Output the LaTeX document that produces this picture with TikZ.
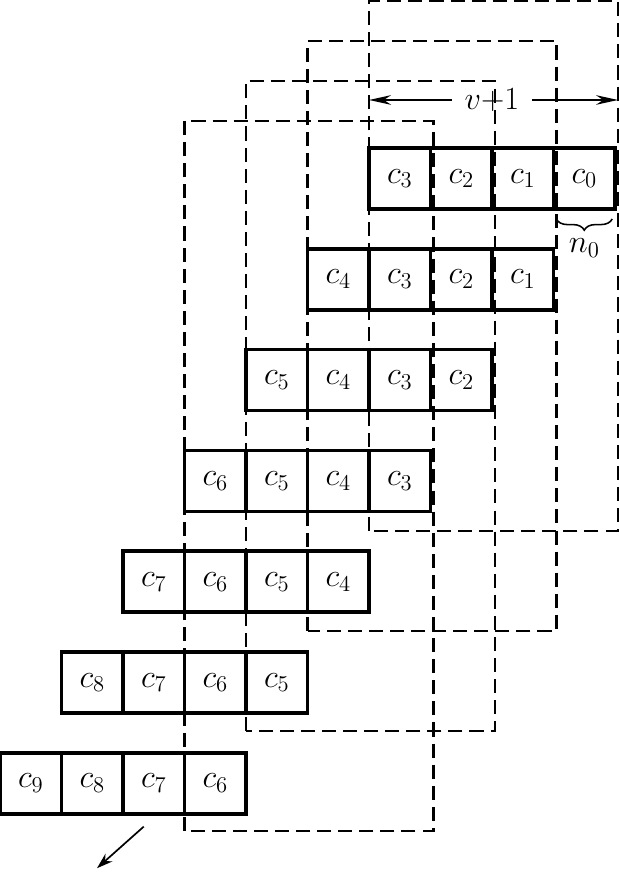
\documentclass[tikz,border=0pt]{standalone}
\usepackage{fix-cm}
\usepackage{amsmath}
\usepackage{tikz}
\usetikzlibrary{arrows.meta,calc,positioning,decorations.pathreplacing}

\begin{document}
\begin{tikzpicture}[
    cell/.style={draw,line width=2.5pt,minimum width=1.5375cm,minimum height=1.525cm,inner sep=0pt,outer sep=0pt,font=\fontsize{23}{27}\selectfont},
    dsh/.style={line width=1.5pt,dash pattern=on 10pt off 5pt},
    ar/.style={-{Stealth[length=5.5mm,width=2.4mm]},line width=1.4pt},
    ard/.style={-{Stealth[length=4mm,width=2.6mm]},line width=1.2pt},
    brc/.style={decorate,decoration={brace,mirror,amplitude=2.8mm},line width=1.1pt},
    lab/.style={font=\fontsize{23}{27}\selectfont}
  ]
    \useasboundingbox (0,0) rectangle (15.475,21.825);
    % dashed windows
    \foreach \r in {0,...,3} {\draw[dsh] ({9.225-1.5375*\r},{8.55-2.5*\r}) rectangle ({15.45-1.5375*\r},{21.8-\r});}
    % rows of cells
    \foreach \k in {0,...,6} {
      \foreach \j in {0,...,3} {
        \pgfmathtruncatemacro\idx{\k+3-\j}
        \node[cell] (r\k-\j) at ({9.225-1.5375*\k+(\j+.5)*1.5375},{17.3625-2.52*\k}) {$c_{\idx}$};
      }
    }
    % width v+1
    \node[lab,inner sep=9pt] (vl) at (12.3,19.325) {$v{+}1$};
    \coordinate (wl) at (9.225,19.325); \coordinate (wr) at (15.45,19.325);
    \draw[ar] (vl) -- (wl); \draw[ar] (vl) -- (wr);
    % brace under c0
    \draw[brc] ([xshift=.07cm,yshift=-.25cm]r0-3.south west) -- ([xshift=-.07cm,yshift=-.25cm]r0-3.south east) node[midway,below=3.5mm,lab] (n0) {$n_0$};
    % direction
    \coordinate (dn) at (2.425,.12);
    \draw[ard] ([xshift=-.25cm,yshift=-.32cm]r6-2.south) -- (dn);
  \end{tikzpicture}
\end{document}
